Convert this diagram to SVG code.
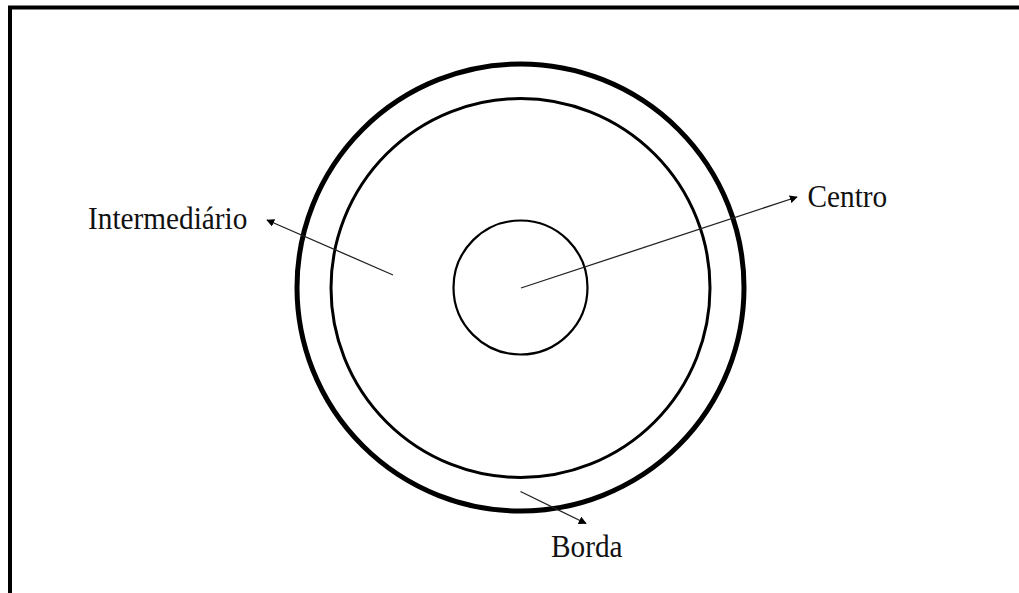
<svg xmlns="http://www.w3.org/2000/svg" width="1019" height="593" viewBox="0 0 1019 593">
<style>
.ring{fill:none;stroke:#000}
.lbl{font-family:"Liberation Serif","Times New Roman",serif;font-size:29.3px;fill:#111}
.conn{stroke:#222;stroke-width:1.3;fill:none;marker-end:url(#ah)}
</style>
<defs>
<marker id="ah" viewBox="0 0 10 10" refX="9" refY="5" markerWidth="8" markerHeight="8" markerUnits="userSpaceOnUse" orient="auto">
<path d="M0,0 L10,5 L0,10 z" fill="#000"/>
</marker>
</defs>
<rect width="1019" height="593" fill="#fff"/>
<g id="frame"><path d="M10,600 L10,7.5 L1030,7.5" fill="none" stroke="#000" stroke-width="4"/></g>
<g id="borda"><circle class="ring" cx="520.5" cy="287.5" r="223.5" stroke-width="5"/></g>
<g id="intermediario"><circle class="ring" cx="520.5" cy="288" r="189.5" stroke-width="3"/></g>
<g id="centro"><circle class="ring" cx="520.5" cy="287.5" r="67" stroke-width="2.2"/></g>
<g id="connectors">
<line class="conn" x1="393" y1="275" x2="267" y2="220"/>
<line class="conn" x1="521" y1="288" x2="797" y2="197"/>
<line class="conn" x1="520.5" y1="491.5" x2="586" y2="523.5"/>
</g>
<g id="labels">
<text class="lbl" transform="translate(88 228.5) scale(1 1.08)">Intermediário</text>
<text class="lbl" transform="translate(807.5 206.5) scale(1 1.08)">Centro</text>
<text class="lbl" transform="translate(551 556.5) scale(1 1.08)">Borda</text>
</g>
</svg>
